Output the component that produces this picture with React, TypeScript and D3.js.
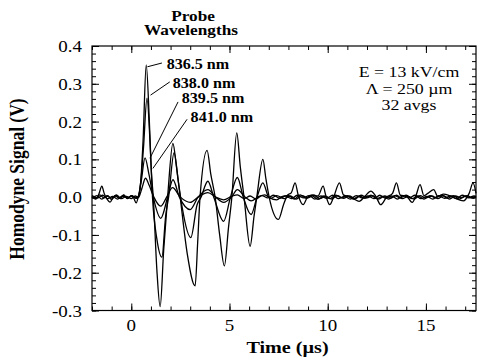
import { useRef, useEffect } from 'react';
import { select, scaleLinear, axisBottom, axisTop, axisLeft, axisRight, line, range, curveMonotoneX } from 'd3';

const W = 481;
const H = 358;

// probe wavelengths (legend labels)
const probeLabels = ['836.5 nm', '838.0 nm', '839.5 nm', '841.0 nm'];

// homodyne traces, [time (us), signal (V)]
const trace8365: [number, number][] = [
    [-2, 0.0], [-1.8, -0.005], [-1.65, 0.008], [-1.5, 0.029], [-1.38, 0.01], [-1.25, -0.004], [-1.08, -0.013],
    [-0.92, 0.0], [-0.75, 0.005], [-0.55, -0.004], [-0.38, 0.006], [-0.2, -0.003], [0.0, 0.004], [0.12, -0.002],
    [0.25, -0.015], [0.35, 0.0], [0.48, 0.04], [0.6, 0.15], [0.76, 0.35], [0.92, 0.2], [1.02, 0.07], [1.12, 0.0],
    [1.3, -0.19], [1.47, -0.29], [1.65, -0.14], [1.85, 0.0], [2.12, 0.142], [2.3, 0.08], [2.49, 0.0], [2.85, -0.15],
    [3.25, -0.235], [3.38, -0.12], [3.5, 0.0], [3.86, 0.124], [4.05, 0.06], [4.27, 0.0], [4.5, -0.1], [4.74, -0.182],
    [4.95, -0.08], [5.12, 0.0], [5.37, 0.17], [5.55, 0.08], [5.74, 0.0], [6.05, -0.13], [6.25, -0.05], [6.39, 0.0],
    [6.7, 0.1], [6.85, 0.05], [7.02, 0.0], [7.49, -0.059], [7.75, -0.02], [7.95, 0.005], [8.15, 0.012], [8.34, 0.038],
    [8.5, 0.005], [8.75, -0.02], [8.95, -0.002], [9.2, 0.006], [9.5, 0.003], [9.77, 0.029], [9.9, 0.005], [10.1, -0.02],
    [10.3, 0.0], [10.6, 0.038], [10.8, 0.006], [11.0, 0.002], [11.3, -0.004], [11.6, -0.011], [11.9, 0.003],
    [12.2, 0.016], [12.45, 0.002], [12.7, -0.02], [13.0, 0.0], [13.3, 0.01], [13.5, 0.038], [13.7, 0.005],
    [14.0, 0.003], [14.3, -0.014], [14.5, 0.005], [14.7, 0.033], [14.9, 0.004], [15.1, 0.01], [15.4, 0.02],
    [15.6, 0.002], [15.9, 0.008], [16.2, 0.004], [16.5, -0.003], [16.9, -0.01], [17.2, 0.01], [17.4, 0.038], [17.55, 0.01],
];
const trace8380: [number, number][] = [
    [-2, 0.002], [-1.8, -0.004], [-1.6, 0.006], [-1.4, -0.002], [-1.2, 0.004], [-1.0, -0.006], [-0.8, 0.003],
    [-0.6, -0.003], [-0.4, 0.005], [-0.2, -0.004], [0.0, 0.003], [0.2, -0.002], [0.35, 0.0], [0.5, 0.05],
    [0.62, 0.13], [0.8, 0.262], [0.95, 0.15], [1.08, 0.0], [1.3, -0.11], [1.56, -0.159], [1.75, -0.05], [1.9, 0.0],
    [2.18, 0.118], [2.4, 0.04], [2.6, -0.03], [3.03, -0.107], [3.35, -0.02], [3.55, 0.0], [3.9, 0.042], [4.2, 0.0],
    [4.7, -0.064], [5.05, 0.0], [5.4, 0.052], [5.7, 0.0], [6.1, -0.046], [6.4, 0.0], [6.7, 0.038], [7.0, 0.0],
    [7.4, -0.007], [7.7, 0.002], [8.0, 0.004], [8.3, -0.005], [8.6, 0.006], [8.9, -0.003], [9.2, 0.004],
    [9.5, -0.006], [9.8, 0.003], [10.1, -0.004], [10.4, 0.005], [10.7, -0.002], [11.0, 0.004], [11.3, -0.005],
    [11.6, 0.003], [11.9, -0.003], [12.2, 0.005], [12.5, -0.004], [12.8, 0.002], [13.1, -0.005], [13.4, 0.004],
    [13.7, -0.002], [14.0, 0.005], [14.3, -0.004], [14.6, 0.003], [14.9, -0.005], [15.2, 0.004], [15.5, -0.002],
    [15.8, 0.005], [16.1, -0.003], [16.4, 0.004], [16.7, -0.005], [17.0, 0.003], [17.3, -0.002], [17.55, 0.003],
];
const trace8395: [number, number][] = [
    [-2, -0.003], [-1.75, 0.004], [-1.5, -0.005], [-1.25, 0.003], [-1.0, -0.002], [-0.75, 0.005], [-0.5, -0.004],
    [-0.25, 0.002], [0.0, -0.004], [0.2, 0.003], [0.35, 0.0], [0.5, 0.04], [0.7, 0.104], [0.9, 0.06], [1.12, 0.0],
    [1.5, -0.056], [1.85, 0.0], [2.12, 0.046], [2.45, 0.0], [3.0, -0.033], [3.4, 0.0], [3.9, 0.02], [4.3, 0.0],
    [4.7, -0.014], [5.1, 0.0], [5.4, 0.02], [5.8, 0.0], [6.1, -0.01], [6.5, 0.002], [6.8, 0.006], [7.1, -0.003],
    [7.4, 0.004], [7.8, -0.004], [8.1, 0.003], [8.4, -0.005], [8.7, 0.004], [9.0, -0.002], [9.3, 0.005],
    [9.6, -0.004], [9.9, 0.002], [10.2, -0.005], [10.5, 0.004], [10.8, -0.003], [11.1, 0.003], [11.4, -0.004],
    [11.7, 0.005], [12.0, -0.002], [12.3, 0.004], [12.6, -0.005], [12.9, 0.003], [13.2, -0.003], [13.5, 0.005],
    [13.8, -0.004], [14.1, 0.002], [14.4, -0.005], [14.7, 0.004], [15.0, -0.002], [15.3, 0.003], [15.6, -0.004],
    [15.9, 0.004], [16.2, -0.005], [16.5, 0.003], [16.8, -0.002], [17.1, 0.004], [17.4, -0.003], [17.55, 0.0],
];
const trace8410: [number, number][] = [
    [-2, 0.004], [-1.7, -0.002], [-1.45, 0.005], [-1.2, -0.004], [-0.95, 0.002], [-0.7, -0.005], [-0.45, 0.003],
    [-0.2, -0.002], [0.05, 0.004], [0.25, -0.003], [0.38, 0.0], [0.55, 0.025], [0.72, 0.05], [0.92, 0.03],
    [1.15, 0.0], [1.5, -0.024], [1.8, 0.0], [2.1, 0.025], [2.5, 0.0], [3.0, -0.014], [3.4, 0.0], [3.9, 0.012],
    [4.3, 0.0], [4.7, -0.007], [5.1, 0.002], [5.4, 0.006], [5.75, -0.004], [6.05, 0.003], [6.35, -0.005],
    [6.65, 0.004], [6.95, -0.002], [7.25, 0.005], [7.55, -0.003], [7.85, 0.003], [8.15, -0.004], [8.45, 0.005],
    [8.75, -0.002], [9.05, 0.004], [9.35, -0.005], [9.65, 0.003], [9.95, -0.003], [10.25, 0.005], [10.55, -0.004],
    [10.85, 0.002], [11.15, -0.005], [11.45, 0.004], [11.75, -0.002], [12.05, 0.003], [12.35, -0.004],
    [12.65, 0.005], [12.95, -0.003], [13.25, 0.003], [13.55, -0.005], [13.85, 0.004], [14.15, -0.002],
    [14.45, 0.005], [14.75, -0.004], [15.05, 0.002], [15.35, -0.005], [15.65, 0.004], [15.95, -0.003],
    [16.25, 0.003], [16.55, -0.004], [16.85, 0.005], [17.15, -0.002], [17.45, 0.003], [17.55, 0.0],
];
const traces = [trace8365, trace8380, trace8395, trace8410];

// axis ticks
const xMajorTicks = [0, 5, 10, 15];
const yMajorTicks = [-0.3, -0.2, -0.1, 0.0, 0.1, 0.2, 0.3, 0.4];

const conditionLines = ['E = 13 kV/cm', '\u039B = 250 \u00B5m', '32 avgs'];
const titleLines = ['Probe', 'Wavelengths'];

// label anchors and leader end points, in data units
const labelAt: [number, number][] = [[1.80, 0.340], [2.11, 0.290], [2.57, 0.248], [3.02, 0.199]];
const leaderFrom: [number, number][] = [[1.56, 0.355], [1.96, 0.305], [2.38, 0.252], [2.84, 0.206]];
const leaderTo: [number, number][] = [[0.82, 0.345], [0.98, 0.27], [0.95, 0.103], [1.10, 0.076]];

const SERIF = '"Liberation Serif", "Times New Roman", serif';
const SX = 1.15; // the figure is a bit wider than tall

export default function App() {
    const svgRef = useRef<SVGSVGElement | null>(null);

    useEffect(() => {
        const svg = select(svgRef.current);
        svg.selectAll('*').remove();

        const left = 92, right = 476, top = 46, bottom = 310.5;
        const x = scaleLinear().domain([-2, 17.55]).range([left, right]);
        const y = scaleLinear().domain([-0.3, 0.4]).range([bottom, top]);

        const text = (tx: number, ty: number, s: string, size: number, anchor: string, bold = false) =>
            svg.append('text')
                .attr('transform', `translate(${tx},${ty}) scale(${SX},1)`)
                .attr('text-anchor', anchor)
                .style('font-family', SERIF)
                .style('font-size', size + 'px')
                .style('font-weight', bold ? 'bold' : 'normal')
                .attr('fill', '#000')
                .text(s);

        // frame ticks: minor then major, pointing inward on all four sides
        const xMinor = range(-2, 17.6, 1);
        const yMinor = range(-0.3, 0.401, 0.02);
        const axisStyle = (g: any) => {
            g.select('.domain').remove();
            g.selectAll('line').attr('stroke', '#000').attr('stroke-width', 1);
            g.selectAll('text').remove();
        };
        svg.append('g').attr('transform', `translate(0,${bottom})`)
            .call(axisBottom(x).tickValues(xMinor).tickSize(-4)).call(axisStyle);
        svg.append('g').attr('transform', `translate(0,${bottom})`)
            .call(axisBottom(x).tickValues(xMajorTicks).tickSize(-7)).call(axisStyle);
        svg.append('g').attr('transform', `translate(0,${top})`)
            .call(axisTop(x).tickValues(xMinor).tickSize(-4)).call(axisStyle);
        svg.append('g').attr('transform', `translate(0,${top})`)
            .call(axisTop(x).tickValues(xMajorTicks).tickSize(-7)).call(axisStyle);
        svg.append('g').attr('transform', `translate(${left},0)`)
            .call(axisLeft(y).tickValues(yMinor).tickSize(-4)).call(axisStyle);
        svg.append('g').attr('transform', `translate(${left},0)`)
            .call(axisLeft(y).tickValues(yMajorTicks).tickSize(-7)).call(axisStyle);
        svg.append('g').attr('transform', `translate(${right},0)`)
            .call(axisRight(y).tickValues(yMinor).tickSize(-4)).call(axisStyle);
        svg.append('g').attr('transform', `translate(${right},0)`)
            .call(axisRight(y).tickValues(yMajorTicks).tickSize(-7)).call(axisStyle);

        svg.append('rect')
            .attr('x', left).attr('y', top)
            .attr('width', right - left).attr('height', bottom - top)
            .attr('fill', 'none').attr('stroke', '#000').attr('stroke-width', 1.2);

        // tick labels
        xMajorTicks.forEach((t) => text(x(t), 331, String(t), 16.5, 'middle'));
        yMajorTicks.forEach((v) => text(82, y(v) + 6, v.toFixed(1), 16.5, 'end'));

        // traces
        const path = line<[number, number]>().x((d) => x(d[0])).y((d) => y(d[1])).curve(curveMonotoneX);
        svg.selectAll('.trace')
            .data(traces)
            .join('path')
            .attr('class', 'trace')
            .attr('d', (d) => path(d))
            .attr('fill', 'none')
            .attr('stroke', '#000')
            .attr('stroke-width', 1.3)
            .attr('stroke-linejoin', 'round');

        // wavelength labels with leader lines
        probeLabels.forEach((s, i) => {
            svg.append('line')
                .attr('x1', x(leaderFrom[i][0])).attr('y1', y(leaderFrom[i][1]))
                .attr('x2', x(leaderTo[i][0])).attr('y2', y(leaderTo[i][1]))
                .attr('stroke', '#000').attr('stroke-width', 1);
            text(x(labelAt[i][0]), y(labelAt[i][1]), s, 14, 'start', true);
        });

        // title above the labels
        text(193, 20.7, titleLines[0], 15, 'middle', true);
        text(191, 35, titleLines[1], 15, 'middle', true);

        // experiment conditions
        conditionLines.forEach((s, i) => text(409, 77.3 + i * 16.5, s, 15.5, 'middle'));

        // axis titles
        text(287.5, 353, 'Time (\u00B5s)', 17.5, 'middle', true);
        svg.append('text')
            .attr('transform', `translate(24,179) rotate(-90) scale(1,${SX})`)
            .attr('text-anchor', 'middle')
            .style('font-family', SERIF)
            .style('font-size', '17.5px')
            .style('font-weight', 'bold')
            .text('Homodyne Signal (V)');
    }, []);

    return (
        <svg
            ref={svgRef}
            width={W}
            height={H}
            style={{ position: 'absolute', left: 0, top: 0, background: '#fff' }}
        />
    );
}
